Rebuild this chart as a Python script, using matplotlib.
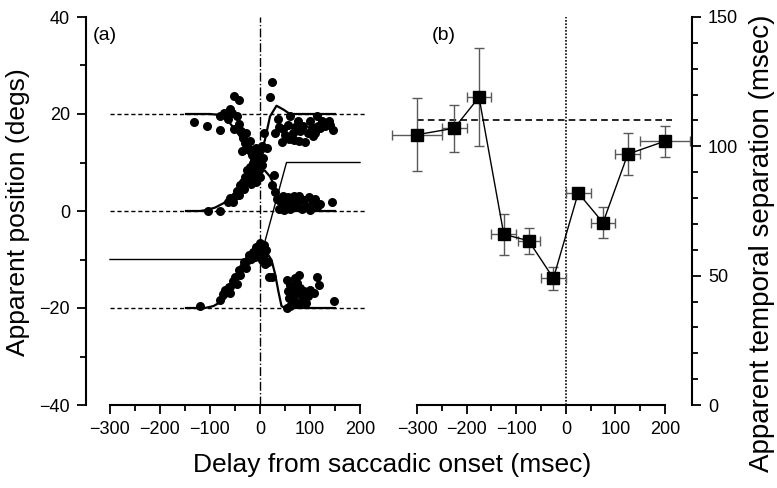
import matplotlib.pyplot as plt
from matplotlib.ticker import FixedLocator

plt.rcParams['font.family'] = ['Liberation Sans', 'DejaVu Sans']

# ---- panel (a): apparent position data ----
dots20_x = [-132, -107, -81, -81, -73, -53, -43, -57, -53, -65, -60, -47, -42, -38, -35, -37, -30, -28,
            -25, -22, -20, -17, -15, -12, -10, -8, -5, -3, 0, 3,
            23, 20, 8, 13, 30, 37, 50, 60, 70, 80, 90, 103, 113, 120, 123, 137, 145, 67, 43, 45, 55,
            65, 75, 85, 95, 100, 110, 130, 140, 58, 77, 105, 115, 35]
dots20_y = [18.4, 17.6, 16.7, 19.6, 20.3, 23.8, 22.8, 20.2, 17, 19, 21, 19.5, 18, 16.5, 15, 12.3, 14, 16,
            13, 12.5, 14.5, 11.5, 12.5, 10.5, 11.5, 13, 10.5, 11.2, 12.5, 13.5,
            26.7, 23.6, 16, 13, 16, 17.4, 15.7, 19.6, 17.4, 16.4, 14.3, 17.4, 19.5, 17.1, 18.5, 18.5, 16.7,
            14.7, 14.3, 17, 17.8, 16, 18.5, 17.5, 16, 18.5, 16, 17.5, 17.8, 14.8, 14.5, 15.5, 17.5, 19]

dots0_x = [-105, -80, -65, -60, -55, -50, -47, -42, -40, -35, -33, -30, -27, -25, -22, -20, -18, -15,
           -13, -10, -8, -6, -5, -3, -1, 0, 3, 5,
           27, 23, 30, 33, 38, 40, 45, 48, 52, 55, 60, 63, 68, 70, 75, 78, 83, 88, 92, 97, 100, 105,
           110, 113, 120, 143]
dots0_y = [0, 0, 1.8, 2.6, 1.8, 3, 4.2, 3.3, 5.4, 6, 4.5, 7, 8.5, 6, 7.5, 9, 5.5, 10,
           7, 8.5, 6, 9.5, 11, 8.5, 10, 7, 9.5, 11,
           7.4, 5.4, 4, 2.5, 0.5, 2, 3, 0.3, 1.5, 2.8, 0.5, 2, 3, 0.8, 1.8, 3, 0.5, 2.3, 1, 2.8, 0.3, 1.8,
           2.5, 0.8, 1.5, 1.9]

dotsm20_x = [-120, -80, -75, -70, -63, -60, -55, -50, -47, -43, -40, -35, -33, -28, -25, -23, -18, -15,
             -13, -10, -8, -5, -3, 0, 2, 4, 7, 10, 12, 15, 8,
             17, 23, 53, 77, 113, 117, 107, 147, 53, 55, 58, 60, 63, 65, 68, 70, 73, 75, 78, 80, 85,
             88, 92, 95, 100, 60, 70]
dotsm20_y = [-19.6, -18.4, -17.2, -16.2, -15.6, -17, -14.5, -13.6, -15, -12.2, -13.2, -11.5, -10.5, -11.8,
             -10, -9.1, -9.8, -8.5, -8.7, -9.5, -7.5, -8.2, -7.7, -6.5, -8.5, -10, -9, -11, -8, -10.5, -7,
             -13.6, -13.6, -14.3, -13.1, -13.6, -15.3, -17, -18.6, -20.1, -16.5, -18, -15.2, -17.5, -19,
             -16, -18.5, -14.8, -17, -19.2, -15.8, -18, -16.5, -19, -17.5, -16.2, -19.5, -13.8]

# fitted curves
fit20_x = [-148, -100, -80, -60, -40, -23, -7, 0, 10, 20, 33, 47, 60, 150]
fit20_y = [20, 20, 19.8, 18.1, 15.4, 13, 11.6, 11.2, 14.7, 19.5, 21.7, 20.9, 20, 20]
fit0_x = [-148, -120, -107, -90, -73, -60, -47, -35, -27, -15, -7, 0, 10, 20, 33, 43, 50, 60, 150]
fit0_y = [0, 0, 0.2, 0.7, 1.6, 2.5, 3.7, 5.0, 6.4, 7.8, 8.5, 8.8, 8.3, 7.1, 4.3, 1.6, 0.2, 0, 0]
fitm20_x = [-148, -110, -93, -73, -53, -37, -20, -3, 0, 10, 23, 30, 37, 43, 50, 150]
fitm20_y = [-20, -20, -19.6, -18.4, -16, -12.5, -9.4, -7.4, -7.2, -8, -10.1, -12.9, -16.7, -19.6, -20, -20]
eye_x = [-300, 0, 53, 200]
eye_y = [-10, -10, 10, 10]
target_levels = [20, 0, -20]

# ---- panel (b): apparent temporal separation ----
delay = [-300, -225, -175, -125, -75, -25, 25, 75, 125, 200]
separation = [104.5, 107, 119, 66, 63.5, 49, 82, 70.5, 97, 102]
sep_err = [14, 9, 19, 8, 5, 4.5, 2, 6, 8, 6]
delay_err = [50, 25, 25, 25, 22, 25, 25, 25, 25, 50]
veridical = 110

xmajor = [-300, -200, -100, 0, 100, 200]
xminor = [-250, -150, -50, 50, 150]

fig = plt.figure(figsize=(7.77, 4.88), dpi=100)
ax1 = fig.add_axes([86 / 777, 83 / 488, 280 / 777, 388 / 488])
ax2 = fig.add_axes([388 / 777, 83 / 488, 304 / 777, 388 / 488])

# panel a
ax1.hlines(target_levels, -300, 212, colors='black', linestyles=(0, (3, 2)), linewidth=1)
ax1.vlines(0, -40, 40, colors='black', linestyles='dashdot', linewidth=1)
for fx, fy in [(fit20_x, fit20_y), (fit0_x, fit0_y), (fitm20_x, fitm20_y)]:
    ax1.plot(fx, fy, color='black', linewidth=1.6)
ax1.plot(eye_x, eye_y, color='black', linewidth=1)
for dx, dy in [(dots20_x, dots20_y), (dots0_x, dots0_y), (dotsm20_x, dotsm20_y)]:
    ax1.plot(dx, dy, 'o', color='black', markersize=6.5, markeredgewidth=0)
ax1.set_xlim(-348, 212)
ax1.set_ylim(-40, 40)
ax1.spines['top'].set_visible(False)
ax1.spines['right'].set_visible(False)
ax1.spines['left'].set_bounds(-40, 40)
ax1.spines['bottom'].set_bounds(-300, 200)
ax1.set_yticks([-40, -20, 0, 20, 40])
ax1.yaxis.set_minor_locator(FixedLocator([-30, -10, 10, 30]))
ax1.text(-335, 38, '(a)', fontsize=14, va='top')

# panel b
ax2.axvline(0, ymax=1, color='black', linestyle=(0, (1, 1)), linewidth=1.2)
ax2.hlines(veridical, -300, 215, colors='black', linestyles=(0, (4, 2.5)), linewidth=1.2)
ax2.errorbar(delay, separation, xerr=delay_err, yerr=sep_err, fmt='none', ecolor='0.35',
             elinewidth=1, capsize=3.5, capthick=1)
ax2.plot(delay, separation, '-s', color='black', markersize=9, linewidth=1)
ax2.set_xlim(-358.5, 254.4)
ax2.set_ylim(0, 150)
ax2.spines['top'].set_visible(False)
ax2.spines['left'].set_visible(False)
ax2.spines['right'].set_bounds(0, 150)
ax2.spines['bottom'].set_bounds(-300, 200)
ax2.yaxis.tick_right()
ax2.set_yticks([0, 50, 100, 150])
ax2.yaxis.set_minor_locator(FixedLocator([v for v in range(10, 150, 10) if v % 50]))
ax2.text(-270, 146, '(b)', fontsize=14, va='top')

for ax in (ax1, ax2):
    ax.set_xticks(xmajor)
    ax.xaxis.set_minor_locator(FixedLocator(xminor))
    for s in ax.spines.values():
        s.set_linewidth(1.5)
    ax.tick_params(which='major', direction='out', length=6.5, width=1.3, labelsize=13, pad=5)
    ax.tick_params(which='minor', direction='out', length=4.5, width=1.3)

fig.text(18 / 777, 1 - 212 / 488, 'Apparent position (degs)', rotation=90, fontsize=19,
         ha='center', va='center')
fig.text(762 / 777, 1 - 243 / 488, 'Apparent temporal separation (msec)', rotation=90, fontsize=20,
         ha='center', va='center')
fig.text(392 / 777, 1 - 465 / 488, 'Delay from saccadic onset (msec)', fontsize=19,
         ha='center', va='center')

fig.savefig('out.png', dpi=100)
